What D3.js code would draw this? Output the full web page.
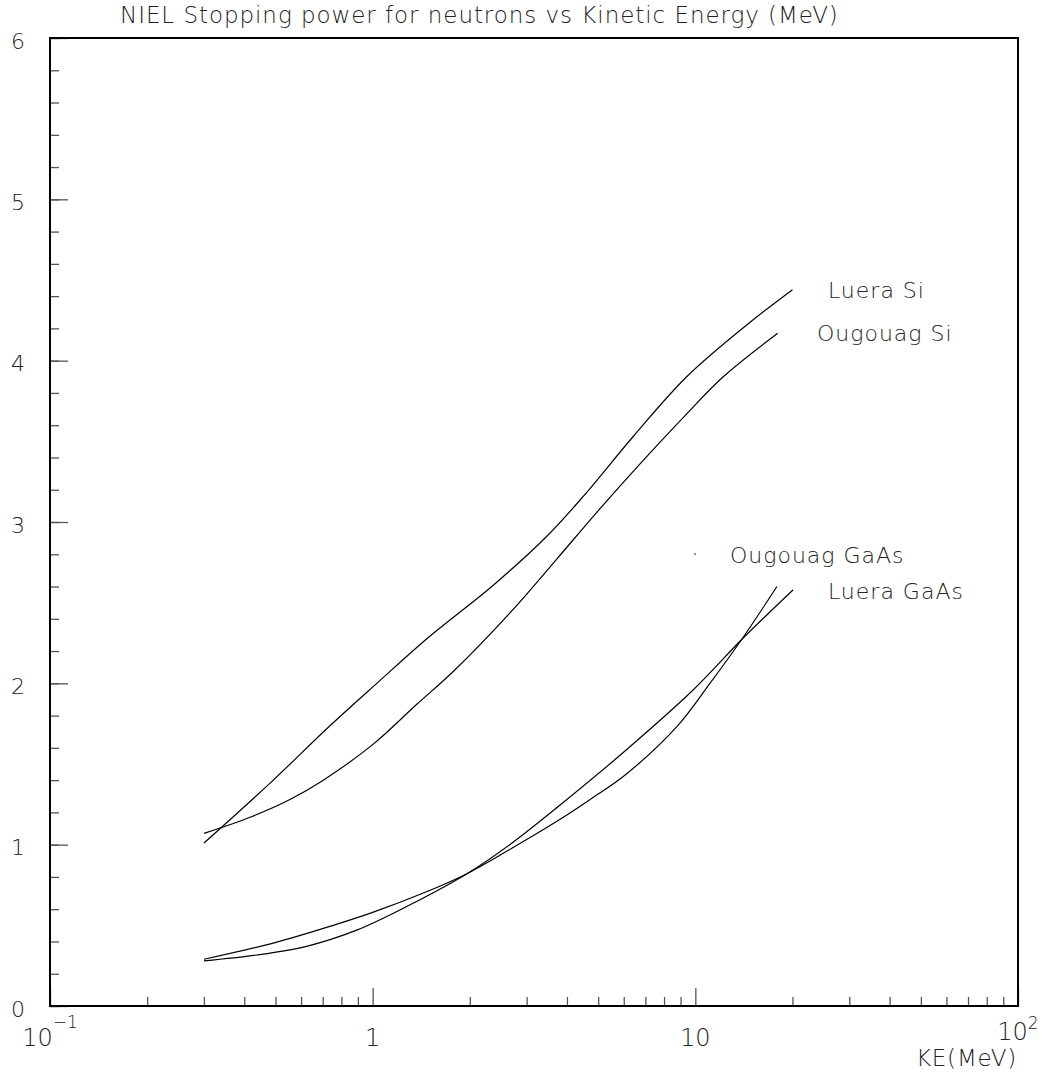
<!DOCTYPE html>
<html>
<head>
<meta charset="utf-8">
<script src="https://cdn.jsdelivr.net/npm/d3@7"></script>
<style>
    body { margin: 0; background: #fff; }
    text { font-family: "DejaVu Sans", sans-serif; font-weight: 200; fill: #222; }
</style>
</head>
<body>
<script>
// kinetic energy (MeV) and NIEL values
var luera_si_x = [0.3, 0.48, 0.74, 1.03, 1.5, 2.37, 3.46, 4.5, 6.42, 9.4, 14.4, 20];
var luera_si_y = [1.01, 1.38, 1.74, 2.0, 2.29, 2.61, 2.91, 3.16, 3.53, 3.90, 4.22, 4.44];

var ougouag_si_x = [0.3, 0.417, 0.554, 0.703, 1.0, 1.37, 1.77, 2.73, 3.72, 4.95, 6.74, 9.2, 12.2, 18];
var ougouag_si_y = [1.07, 1.17, 1.28, 1.40, 1.62, 1.87, 2.07, 2.46, 2.77, 3.06, 3.36, 3.65, 3.90, 4.17];

var luera_gaas_x = [0.3, 0.437, 0.624, 0.892, 1.27, 1.96, 2.66, 3.81, 6.13, 9.86, 13.9, 20.1];
var luera_gaas_y = [0.28, 0.316, 0.37, 0.47, 0.615, 0.82, 1.0, 1.246, 1.59, 1.96, 2.27, 2.58];

var ougouag_gaas_x = [0.3, 0.492, 0.755, 1.0, 1.436, 1.96, 2.66, 3.81, 4.72, 6.13, 8.75, 11.1, 13.9, 17.9];
var ougouag_gaas_y = [0.29, 0.39, 0.50, 0.58, 0.70, 0.82, 0.97, 1.157, 1.28, 1.44, 1.73, 2.0, 2.27, 2.60];

var series_names = ["Luera Si", "Ougouag Si", "Ougouag GaAs", "Luera GaAs"];
var y_ticks = [0, 1, 2, 3, 4, 5, 6];
var x_major = [0.1, 1, 10, 100];
var marker_x = [10];
var marker_y = [2.8];

window.onload = () => {

    var width = 1055;
    var height = 1081;
    var left = 50, right = 1018, top = 38, bottom = 1006;

    var svg = d3.select("body").append("svg")
        .attr("width", width)
        .attr("height", height)

    var xscale = d3.scaleLog()
        .domain([0.1, 100])
        .range([left, right]);
    var yscale = d3.scaleLinear()
        .domain([0, 6])
        .range([bottom, top]);

    // minor + major ticks, pointing inwards
    var x_minor = [];
    for (var d = 0.1; d < 100; d *= 10) {
        for (var k = 2; k <= 9; k++) x_minor.push(+(d * k).toPrecision(2));
    }
    var y_minor = d3.range(0, 6.01, 0.2).map(v => +v.toFixed(1));

    var tickcol = "#555";

    svg.append("g")
        .attr("transform", "translate(0," + bottom + ")")
        .call(d3.axisBottom(xscale).tickValues(x_minor).tickFormat("").tickSizeInner(-9).tickSizeOuter(0))
    svg.append("g")
        .attr("transform", "translate(0," + bottom + ")")
        .call(d3.axisBottom(xscale).tickValues(x_major).tickFormat("").tickSizeInner(-18).tickSizeOuter(0))
    svg.append("g")
        .attr("transform", "translate(" + left + ",0)")
        .call(d3.axisLeft(yscale).tickValues(y_minor).tickFormat("").tickSizeInner(-9).tickSizeOuter(0))
    svg.append("g")
        .attr("transform", "translate(" + left + ",0)")
        .call(d3.axisLeft(yscale).tickValues(y_ticks).tickFormat(d3.format("d")).tickSizeInner(-18).tickSizeOuter(0).tickPadding(25))
        .call(g => g.selectAll("text")
            .attr("dy", 10)
            .style("font-size", "22px"));

    svg.selectAll(".tick line").attr("stroke", tickcol).attr("stroke-width", 1.3);
    svg.selectAll(".domain").remove();

    // frame
    svg.append("rect")
        .attr("x", left)
        .attr("y", top)
        .attr("width", right - left)
        .attr("height", bottom - top)
        .attr("fill", "none")
        .attr("stroke", "#000")
        .attr("stroke-width", 2)

    // x tick labels (with exponents)
    var xlab = [["10", "\u22121"], ["1", ""], ["10", ""], ["10", "2"]];
    var xlab_y = [1046, 1046, 1046, 1040];
    x_major.forEach((v, i) => {
        var t = svg.append("text")
            .attr("x", xscale(v))
            .attr("y", xlab_y[i])
            .attr("text-anchor", "middle")
            .style("font-size", "24px")
        t.append("tspan").text(xlab[i][0]);
        if (xlab[i][1] != "") {
            t.append("tspan")
                .attr("dy", i == 0 ? -18 : -11)
                .style("font-size", "17px")
                .text(xlab[i][1]);
        }
    });

    svg.append("text")
        .attr("x", 1017)
        .attr("y", 1066)
        .attr("text-anchor", "end")
        .style("font-size", "23px")
        .style("letter-spacing", "0.8px")
        .text("KE(MeV)");

    svg.append("text")
        .attr("x", 120)
        .attr("y", 23)
        .style("font-size", "23px")
        .style("letter-spacing", "0.95px")
        .text("NIEL Stopping power for neutrons vs Kinetic Energy (MeV)");

    // curves
    var line = d3.line()
        .x(d => xscale(d[0]))
        .y(d => yscale(d[1]))
        .curve(d3.curveCatmullRom.alpha(0.5));

    var all = [
        [luera_si_x, luera_si_y],
        [ougouag_si_x, ougouag_si_y],
        [ougouag_gaas_x, ougouag_gaas_y],
        [luera_gaas_x, luera_gaas_y]
    ];
    all.forEach(s => {
        var pts = s[0].map((x, i) => [x, s[1][i]]);
        svg.append("path")
            .attr("d", line(pts))
            .attr("fill", "none")
            .attr("stroke", "#000")
            .attr("stroke-width", 1.2)
    });

    // small marker next to one label
    svg.selectAll("rect.mk").data(marker_x).enter().append("rect")
        .attr("class", "mk")
        .attr("x", (d, i) => xscale(d) - 1)
        .attr("y", (d, i) => yscale(marker_y[i]) - 1)
        .attr("width", 1.5)
        .attr("height", 1.5)
        .attr("fill", "#444")

    // series labels
    var lab_pos = [[828, 298], [817, 341], [730, 563], [828, 599]];
    series_names.forEach((n, i) => {
        svg.append("text")
            .attr("x", lab_pos[i][0])
            .attr("y", lab_pos[i][1])
            .style("font-size", "22px")
            .style("letter-spacing", "1px")
            .text(n);
    });
}
</script>
</body>
</html>
